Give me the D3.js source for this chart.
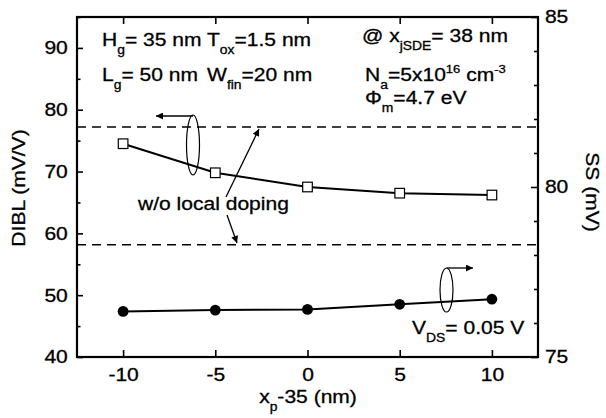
<!DOCTYPE html>
<html>
<head>
<meta charset="utf-8">
<script src="https://cdn.jsdelivr.net/npm/d3@7/dist/d3.min.js"></script>
<style>
  html, body { margin: 0; padding: 0; background: #fff; }
  svg text { font-family: "Liberation Sans", Arial, sans-serif; fill: #000; stroke: #000; stroke-width: 0.3px; }
</style>
</head>
<body>
<svg id="chart" width="606" height="418"></svg>
<script>
// Gate offset sweep (x_p - 35, nm)
const xValues = [-10, -5, 0, 5, 10];
// DIBL with local doping (mV/V), left axis
const diblValues = [74.5, 69.8, 67.5, 66.5, 66.2];
// Subthreshold swing with local doping (mV), right axis
const ssValues = [76.34, 76.38, 76.40, 76.55, 76.70];
// Reference levels without local doping
const diblNoDoping = 77.2;   // mV/V
const ssNoDoping = 78.3;     // mV
// Tick values
const xTicks = [-10, -5, 0, 5, 10];
const leftTicks = [40, 50, 60, 70, 80, 90];
const leftMinor = [45, 55, 65, 75, 85, 95];
const rightTicks = [75, 80, 85];
const rightMinor = [76, 77, 78, 79, 81, 82, 83, 84];

const plot = { left: 77, right: 538, top: 17, bottom: 357 };
const SX = 1.15; // horizontal stretch applied to all lettering
const FS = 18.3;

const svg = d3.select("#chart");

const x = d3.scaleLinear().domain([-12.5, 12.5]).range([plot.left, plot.right]);
const yL = d3.scaleLinear().domain([40, 95]).range([plot.bottom, plot.top]);
const yR = d3.scaleLinear().domain([75, 85]).range([plot.bottom, plot.top]);
const plainFmt = d => String(d); // ASCII hyphen for negatives

// arrowheads
const defs = svg.append("defs");
defs.append("marker")
  .attr("id", "arrow")
  .attr("viewBox", "0 0 10 10")
  .attr("refX", 10).attr("refY", 5)
  .attr("markerWidth", 9).attr("markerHeight", 7)
  .attr("markerUnits", "userSpaceOnUse")
  .attr("orient", "auto")
  .append("path").attr("d", "M0,0 L10,5 L0,10 Z").attr("fill", "#000");

// dashed reference lines (without local doping)
svg.append("line")
  .attr("x1", plot.left).attr("x2", plot.right)
  .attr("y1", yL(diblNoDoping)).attr("y2", yL(diblNoDoping))
  .attr("stroke", "#000").attr("stroke-width", 1.6).attr("stroke-dasharray", "9,6");
svg.append("line")
  .attr("x1", plot.left).attr("x2", plot.right)
  .attr("y1", yR(ssNoDoping)).attr("y2", yR(ssNoDoping))
  .attr("stroke", "#000").attr("stroke-width", 1.6).attr("stroke-dasharray", "9,6");

// axes with inward ticks
function styleAxis(g) {
  g.select(".domain").remove();
  g.selectAll(".tick line").attr("stroke", "#000").attr("stroke-width", 1.6);
  g.selectAll(".tick text").attr("font-size", FS);
}
const gBottom = svg.append("g").attr("transform", `translate(0,${plot.bottom})`)
  .call(d3.axisBottom(x).tickValues(xTicks).tickSize(-7).tickPadding(11).tickFormat(plainFmt));
styleAxis(gBottom);
gBottom.selectAll(".tick text").attr("transform", `scale(${SX},1)`);

const gTop = svg.append("g").attr("transform", `translate(0,${plot.top})`)
  .call(d3.axisTop(x).tickValues(xTicks).tickSize(-7).tickFormat(""));
styleAxis(gTop);

const gLeft = svg.append("g").attr("transform", `translate(${plot.left},0)`)
  .call(d3.axisLeft(yL).tickValues(leftTicks).tickSize(-6).tickPadding(8).tickFormat(plainFmt));
styleAxis(gLeft);
gLeft.selectAll(".tick text").attr("transform", `scale(${SX},1)`);
const gLeftMinor = svg.append("g").attr("transform", `translate(${plot.left},0)`)
  .call(d3.axisLeft(yL).tickValues(leftMinor).tickSize(-3.5).tickFormat(""));
styleAxis(gLeftMinor);

const gRight = svg.append("g").attr("transform", `translate(${plot.right},0)`)
  .call(d3.axisRight(yR).tickValues(rightTicks).tickSize(-7).tickPadding(6).tickFormat(plainFmt));
styleAxis(gRight);
gRight.selectAll(".tick text").attr("transform", `scale(${SX},1)`);
const gRightMinor = svg.append("g").attr("transform", `translate(${plot.right},0)`)
  .call(d3.axisRight(yR).tickValues(rightMinor).tickSize(-4).tickFormat(""));
styleAxis(gRightMinor);

// frame
svg.append("rect")
  .attr("x", plot.left).attr("y", plot.top)
  .attr("width", plot.right - plot.left).attr("height", plot.bottom - plot.top)
  .attr("fill", "none").attr("stroke", "#000").attr("stroke-width", 2.2);

// SS series (filled circles, right axis)
const ssData = xValues.map((v, i) => ({ x: v, y: ssValues[i] }));
svg.append("path").datum(ssData)
  .attr("fill", "none").attr("stroke", "#000").attr("stroke-width", 2)
  .attr("d", d3.line().x(d => x(d.x)).y(d => yR(d.y)));
svg.selectAll("circle.ss").data(ssData).enter().append("circle")
  .attr("class", "ss")
  .attr("cx", d => x(d.x)).attr("cy", d => yR(d.y)).attr("r", 5.4)
  .attr("fill", "#000");

// DIBL series (open squares, left axis)
const diblData = xValues.map((v, i) => ({ x: v, y: diblValues[i] }));
svg.append("path").datum(diblData)
  .attr("fill", "none").attr("stroke", "#000").attr("stroke-width", 2)
  .attr("d", d3.line().x(d => x(d.x)).y(d => yL(d.y)));
svg.selectAll("rect.dibl").data(diblData).enter().append("rect")
  .attr("class", "dibl")
  .attr("x", d => x(d.x) - 4.8).attr("y", d => yL(d.y) - 4.8)
  .attr("width", 9.6).attr("height", 9.6)
  .attr("fill", "#fff").attr("stroke", "#000").attr("stroke-width", 1.2);

// series markers: ellipses with arrows toward their axes
svg.append("ellipse")
  .attr("cx", 193).attr("cy", 145).attr("rx", 6.5).attr("ry", 30)
  .attr("fill", "none").attr("stroke", "#000").attr("stroke-width", 1.2);
svg.append("line")
  .attr("x1", 193).attr("y1", 116).attr("x2", 156).attr("y2", 116)
  .attr("stroke", "#000").attr("stroke-width", 1.3).attr("marker-end", "url(#arrow)");

svg.append("ellipse")
  .attr("cx", 446.5).attr("cy", 290).attr("rx", 6.5).attr("ry", 22)
  .attr("fill", "none").attr("stroke", "#000").attr("stroke-width", 1.2);
svg.append("line")
  .attr("x1", 447).attr("y1", 268).attr("x2", 473).attr("y2", 268)
  .attr("stroke", "#000").attr("stroke-width", 1.3).attr("marker-end", "url(#arrow)");

// "w/o local doping" pointers
svg.append("line")
  .attr("x1", 226).attr("y1", 197).attr("x2", 259).attr("y2", 129)
  .attr("stroke", "#000").attr("stroke-width", 1.3).attr("marker-end", "url(#arrow)");
svg.append("line")
  .attr("x1", 227).attr("y1", 215).attr("x2", 237).attr("y2", 243)
  .attr("stroke", "#000").attr("stroke-width", 1.3).attr("marker-end", "url(#arrow)");

// rich text helper: segments with optional sub/superscripts
function richText(parent, segs, tx, ty, opts = {}) {
  const size = opts.size || FS;
  const t = parent.append("text")
    .attr("font-size", size)
    .attr("text-anchor", opts.anchor || "start")
    .attr("transform", `translate(${tx},${ty}) ${opts.rotate ? `rotate(${opts.rotate})` : ""} scale(${SX},1)`);
  let shift = 0;
  segs.forEach(s => {
    const sp = t.append("tspan").text(s.t);
    let target = 0;
    if (s.sub) { target = size * 0.42; sp.attr("font-size", size * 0.66); }
    if (s.sup) { target = -size * 0.42; sp.attr("font-size", size * 0.62); }
    if (target !== shift) { sp.attr("dy", target - shift); shift = target; }
  });
  return t;
}

const ann = svg.append("g");
richText(ann, [{t: "H"}, {t: "g", sub: true}, {t: "= 35 nm"}], 102, 46);
richText(ann, [{t: "T"}, {t: "ox", sub: true}, {t: "=1.5 nm"}], 207, 46);
richText(ann, [{t: "L"}, {t: "g", sub: true}, {t: "= 50 nm"}], 102, 81);
richText(ann, [{t: "W"}, {t: "fin", sub: true}, {t: "=20 nm"}], 207, 81);
richText(ann, [{t: "@ x"}, {t: "jSDE", sub: true}, {t: "= 38 nm"}], 362, 42);
richText(ann, [{t: "N"}, {t: "a", sub: true}, {t: "=5x10"}, {t: "16", sup: true}, {t: " cm"}, {t: "-3", sup: true}], 365, 81);
richText(ann, [{t: "\u03A6"}, {t: "m", sub: true}, {t: "=4.7 eV"}], 365, 104);
richText(ann, [{t: "w/o local doping"}], 138, 210);
richText(ann, [{t: "V"}, {t: "DS", sub: true}, {t: "= 0.05 V"}], 412, 334);

// axis titles
richText(svg, [{t: "x"}, {t: "p", sub: true}, {t: "-35 (nm)"}], 308, 403, {anchor: "middle"});
richText(svg, [{t: "DIBL (mV/V)"}], 25, 188, {anchor: "middle", rotate: -90});
richText(svg, [{t: "SS (mV)"}], 586, 192, {anchor: "middle", rotate: 90});
</script>
</body>
</html>
